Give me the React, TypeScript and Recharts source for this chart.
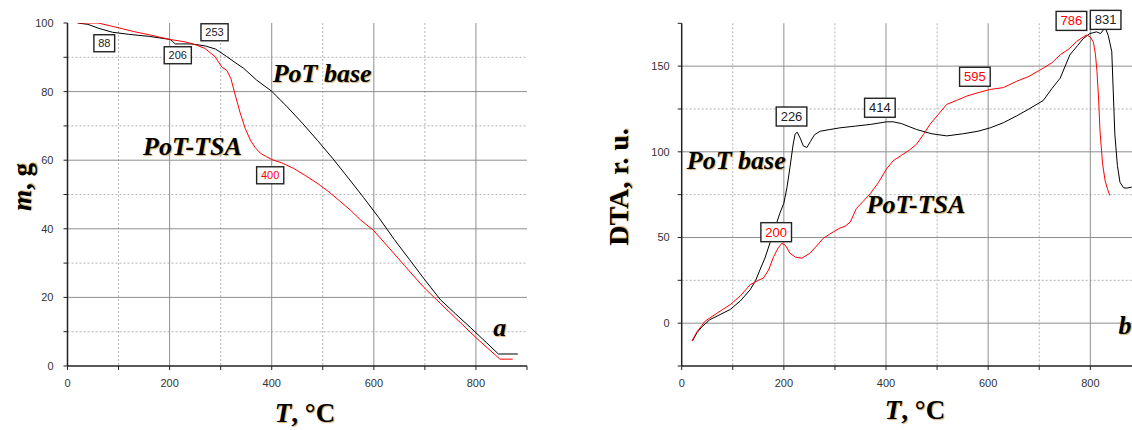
import React from 'react';
import { LineChart, Line, XAxis, YAxis, CartesianGrid, ReferenceDot } from 'recharts';

// panel a: mass loss (TGA)
const tgaBaseT = [20, 40, 60, 88, 120, 160, 201, 206, 211, 220, 240, 253, 270, 290, 312, 330, 345, 370, 400, 430, 460, 490, 520, 550, 580, 610, 640, 670, 700, 730, 760, 790, 820, 844, 882];
const tgaBaseM = [100, 99.6, 98.5, 97.3, 96.7, 96.1, 95.2, 94.6, 93.9, 93.9, 93.9, 93.7, 93.3, 92.4, 90.2, 88.3, 86.8, 83.4, 80.1, 75.6, 70.8, 65.7, 60.4, 54.8, 49.1, 43.2, 36.9, 31.0, 25.1, 19.4, 15.2, 11.1, 6.9, 3.5, 3.5];
const tgaTsaT = [20, 60, 100, 130, 162, 201, 230, 246, 269, 289, 302, 312, 320, 328, 338, 348, 358, 368, 378, 390, 400, 420, 443, 465, 489, 510, 531, 555, 574, 599, 630, 660, 698, 730, 760, 802, 847, 872];
const tgaTsaM = [100, 100, 98.6, 97.5, 96.5, 95.2, 94.5, 93.9, 92.6, 90.2, 87.2, 86.2, 83.8, 79.3, 73.9, 69.3, 65.9, 63.6, 62.0, 61.0, 60.2, 59.2, 57.6, 55.6, 53.3, 51.0, 48.4, 45.3, 42.6, 39.6, 34.4, 29.3, 22.9, 18.3, 14.0, 8.0, 2.0, 2.0];

// panel b: DTA
const dtaBaseT = [21, 30, 40, 55, 75, 95, 115, 134, 145, 153, 163, 173, 183, 192, 200, 206, 212, 218, 222, 226, 232, 238, 245, 252, 260, 271, 290, 310, 340, 370, 401, 414, 430, 460, 490, 519, 550, 580, 604, 630, 656, 680, 708, 725, 741, 760, 775, 786, 799, 812, 820, 829, 835, 842, 848, 853, 858, 865, 871, 881];
const dtaBaseV = [-10.4, -5.5, -2, 2, 5, 8, 13, 19.5, 25, 31, 38, 47, 56, 64, 70, 79, 91, 104, 110.3, 111.5, 108, 103.5, 102.5, 106, 110, 112, 113, 114, 115, 116, 117.5, 117.5, 116.5, 113, 110.5, 109.3, 110.5, 112, 114, 117, 121, 125, 130, 137, 143, 156.6, 162, 166, 169, 170, 169, 172.5, 168, 158.5, 110.3, 92, 82.3, 79, 78.8, 79.4];
const dtaTsaT = [20, 30, 46, 70, 95, 115, 134, 150, 160, 170, 180, 189, 196, 203, 212, 223, 235, 251, 264, 277, 290, 297, 310, 320, 330, 342, 355, 369, 385, 401, 414, 434, 448, 460, 473, 486, 500, 519, 538, 558, 580, 604, 630, 656, 680, 708, 725, 741, 758, 773, 786, 793, 800, 806, 810, 813, 816, 819, 824, 829, 834, 838];
const dtaTsaV = [-10.4, -5, 1.2, 6, 10.8, 16, 22.4, 25, 26.3, 31, 38.8, 44, 46.6, 45.5, 40.8, 38.5, 37.9, 40.8, 45, 49.5, 52, 53.3, 55.5, 56.6, 59, 66.9, 71, 75.5, 82, 90, 94.8, 98.7, 101.5, 104.5, 110, 116, 121, 127.7, 130, 132.5, 134.5, 136.4, 137.5, 141.2, 144, 148.9, 152, 156.6, 160, 164.4, 167, 168.2, 167, 164, 157, 147, 132, 112, 93, 83, 78, 74.6];

// axis ticks
const tTicks = [0, 100, 200, 300, 400, 500, 600, 700, 800, 900];
const tMajor = [200, 400, 600, 800];
const tMinor = [100, 300, 500, 700];
const mTicks = [0, 10, 20, 30, 40, 50, 60, 70, 80, 90, 100];
const mLabels = [0, 20, 40, 60, 80, 100];
const mMajor = [20, 40, 60, 80];
const mMinor = [10, 30, 50, 70, 90];
const dtaTicks = [-25, 0, 25, 50, 75, 100, 125, 150, 175];
const dtaLabels = [0, 50, 100, 150];
const dtaMajor = [0, 50, 100, 150];
const dtaMinor = [25, 75, 125];

// peak temperature labels
const tgaPeaks = [
  { t: 72, v: 94.1, text: '88', series: 'base' },
  { t: 216, v: 90.6, text: '206', series: 'base' },
  { t: 288, v: 97.3, text: '253', series: 'base' },
  { t: 397, v: 55.6, text: '400', series: 'tsa' },
];
const dtaPeaks = [
  { t: 215, v: 120.6, text: '226', series: 'base' },
  { t: 388, v: 125.7, text: '414', series: 'base' },
  { t: 574, v: 143.8, text: '595', series: 'tsa' },
  { t: 763, v: 176.4, text: '786', series: 'tsa' },
  { t: 830, v: 177, text: '831', series: 'base' },
  { t: 185, v: 53.1, text: '200', series: 'tsa' },
];

// curve names and panel letters (start of text, baseline)
const tgaNotes = [
  { t: 402, v: 82.8, text: 'PoT base' },
  { t: 148, v: 61.5, text: 'PoT-TSA' },
  { t: 834, v: 8.7, text: 'a' },
];
const dtaNotes = [
  { t: 10, v: 90, text: 'PoT base' },
  { t: 362, v: 64, text: 'PoT-TSA' },
  { t: 855, v: -6.5, text: 'b' },
];

const toPoints = (ts: number[], vs: number[]) => ts.map((t, i) => ({ t, v: vs[i] }));

const colors: Record<string, string> = { base: '#000000', tsa: '#ff0000' };
const serif = '"Liberation Serif", "Times New Roman", serif';
const sans = '"Liberation Sans", Arial, sans-serif';
const glow = '1px 1px 1px #d8b070';

const tickStyle = { fontSize: 11, fill: '#333', fontFamily: sans };
const axisLine = { stroke: '#222', strokeWidth: 1.5 };

const peakShape = (text: string, color: string, fs: number) => (props: any) => {
  const { cx, cy } = props;
  const w = text.length * fs * 0.58 + 8;
  const h = fs + 6;
  return (
    <g>
      <rect x={cx - w / 2} y={cy - h / 2} width={w} height={h} fill="#fff" stroke="#222" strokeWidth={1.4} />
      <text x={cx} y={cy} textAnchor="middle" dominantBaseline="central" fontSize={fs} fontFamily={sans} fill={color === '#000000' ? '#222' : color}>
        {text}
      </text>
    </g>
  );
};

const noteShape = (text: string, fs: number) => (props: any) => (
  <text
    x={props.cx}
    y={props.cy}
    fontSize={fs}
    fontFamily={serif}
    fontWeight="bold"
    fontStyle="italic"
    fill="#000"
    style={{ textShadow: glow }}
  >
    {text}
  </text>
);

function Panel(props: {
  left: number;
  width: number;
  margin: { top: number; right: number; bottom: number; left: number };
  yDomain: [number, number];
  yTicks: number[];
  yLabels: number[];
  yMajor: number[];
  yMinor: number[];
  yTickMargin: number;
  base: { t: number; v: number }[];
  tsa: { t: number; v: number }[];
  peaks: { t: number; v: number; text: string; series: string }[];
  notes: { t: number; v: number; text: string }[];
  peakFont: number;
}) {
  return (
    <div style={{ position: 'absolute', left: props.left, top: 0 }}>
      <LineChart width={props.width} height={430} margin={props.margin}>
        <CartesianGrid horizontalValues={props.yMinor} verticalValues={tMinor} stroke="#b4b4b4" strokeDasharray="2 2" />
        <CartesianGrid horizontalValues={props.yMajor} verticalValues={tMajor} stroke="#8e8e8e" strokeWidth={1} />
        <XAxis
          type="number"
          dataKey="t"
          domain={[0, 900]}
          ticks={tTicks}
          allowDataOverflow
          height={30}
          tickSize={4}
          tickMargin={9}
          tick={tickStyle}
          axisLine={axisLine}
          tickLine={{ stroke: '#222' }}
          tickFormatter={(v: number) => (v % 200 === 0 ? String(v) : '')}
        />
        <YAxis
          type="number"
          dataKey="v"
          domain={props.yDomain}
          ticks={props.yTicks}
          allowDataOverflow
          width={40}
          tickSize={4}
          tickMargin={props.yTickMargin}
          tick={tickStyle}
          axisLine={axisLine}
          tickLine={{ stroke: '#222' }}
          tickFormatter={(v: number) => (props.yLabels.includes(v) ? String(v) : '')}
        />
        <Line data={props.base} dataKey="v" type="linear" stroke={colors.base} strokeWidth={1} dot={false} isAnimationActive={false} />
        <Line data={props.tsa} dataKey="v" type="linear" stroke={colors.tsa} strokeWidth={1} dot={false} isAnimationActive={false} />
        {props.notes.map((n) => (
          <ReferenceDot key={n.text} x={n.t} y={n.v} r={0} ifOverflow="visible" shape={noteShape(n.text, 26)} />
        ))}
        {props.peaks.map((p) => (
          <ReferenceDot
            key={p.text}
            x={p.t}
            y={p.v}
            r={0}
            ifOverflow="visible"
            shape={peakShape(p.text, colors[p.series], props.peakFont)}
          />
        ))}
      </LineChart>
    </div>
  );
}

const titleStyle: React.CSSProperties = {
  position: 'absolute',
  fontFamily: serif,
  fontWeight: 'bold',
  fontSize: 27,
  color: '#000',
  whiteSpace: 'nowrap',
  textShadow: glow,
  lineHeight: 1,
};

export default function App() {
  return (
    <div style={{ position: 'fixed', left: 0, top: 0, width: 1132, height: 430, overflow: 'hidden', background: '#fff' }}>
      <Panel
        left={0}
        width={540}
        margin={{ top: 23, right: 13, bottom: 34, left: 27.5 }}
        yDomain={[0, 100]}
        yTicks={mTicks}
        yLabels={mLabels}
        yMajor={mMajor}
        yMinor={mMinor}
        yTickMargin={10}
        base={toPoints(tgaBaseT, tgaBaseM)}
        tsa={toPoints(tgaTsaT, tgaTsaM)}
        peaks={tgaPeaks}
        notes={tgaNotes}
        peakFont={11}
      />
      <Panel
        left={600}
        width={560}
        margin={{ top: 23.3, right: 18.6, bottom: 34, left: 41.7 }}
        yDomain={[-25, 175]}
        yTicks={dtaTicks}
        yLabels={dtaLabels}
        yMajor={dtaMajor}
        yMinor={dtaMinor}
        yTickMargin={8}
        base={toPoints(dtaBaseT, dtaBaseV)}
        tsa={toPoints(dtaTsaT, dtaTsaV)}
        peaks={dtaPeaks}
        notes={dtaNotes}
        peakFont={13}
      />
      <div style={{ ...titleStyle, left: 22, top: 187, transform: 'translate(-50%, -50%) rotate(-90deg)' }}>
        <i>m</i>, g
      </div>
      <div style={{ ...titleStyle, left: 619, top: 187, fontSize: 28, transform: 'translate(-50%, -50%) rotate(-90deg)' }}>
        DTA, r. u.
      </div>
      <div style={{ ...titleStyle, left: 305, top: 413, transform: 'translate(-50%, -50%)' }}>
        <i>T</i>, °C
      </div>
      <div style={{ ...titleStyle, left: 915, top: 410, transform: 'translate(-50%, -50%)' }}>
        <i>T</i>, °C
      </div>
    </div>
  );
}
